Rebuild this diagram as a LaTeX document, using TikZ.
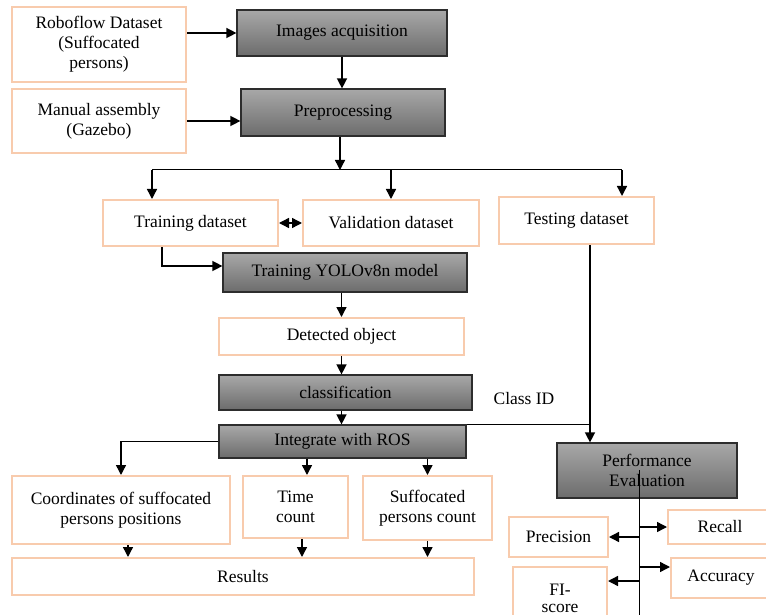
\documentclass[tikz,border=0pt]{standalone}
\usepackage{fontspec}
\setmainfont{Liberation Serif}
\usetikzlibrary{arrows.meta}

\begin{document}
\begin{tikzpicture}[x=1pt,y=-1pt,
  txt/.style={font=\fontsize{17.5}{20}\selectfont, align=center, inner sep=0pt},
  databox/.style={txt, draw=databorder, line width=2pt, fill=white},
  stagebox/.style={txt, draw=stageborder, line width=1.2pt, top color=stagetop, bottom color=stagebottom},
  arr/.style={line width=1.4pt, -{Triangle[length=10pt,width=10pt]}},
  dbl/.style={line width=1.4pt, {Triangle[length=10pt,width=10pt]}-{Triangle[length=10pt,width=10pt]}},
  link/.style={line width=1pt}]
  % Define colors
  \definecolor{databorder}{RGB}{248,203,173}
  \definecolor{stageborder}{RGB}{45,45,45}
  \definecolor{stagetop}{RGB}{168,168,168}
  \definecolor{stagebottom}{RGB}{108,108,108}

  \useasboundingbox (0,0) rectangle (766,615);
  \clip (0,0) rectangle (766,615);

  % Sources and first stages
  \node[databox, minimum width=174pt, minimum height=75pt] (robo) at (99,44.5) {Roboflow Dataset\\(Suffocated\\persons)};
  \node[databox, minimum width=174pt, minimum height=64pt] (manual) at (99,121) {Manual assembly\\(Gazebo)};
  \node[stagebox, minimum width=210pt, minimum height=46pt] (img) at (342,33) {Images acquisition};
  \node[stagebox, minimum width=204pt, minimum height=47pt] (prep) at (343,112.5) {Preprocessing};

  % Dataset split
  \node[databox, minimum width=175pt, minimum height=46pt] (train) at (190.5,223) {Training dataset};
  \node[databox, minimum width=176pt, minimum height=46pt] (val) at (391,223) {Validation dataset};
  \node[databox, minimum width=155pt, minimum height=47pt] (test) at (576.5,220.5) {Testing dataset};

  % Model chain
  \node[stagebox, minimum width=244pt, minimum height=39pt] (yolo) at (345,272.5) {Training YOLOv8n model};
  \node[databox, minimum width=245pt, minimum height=37pt] (det) at (341.5,336.5) {Detected object};
  \node[stagebox, minimum width=253pt, minimum height=35pt] (cls) at (345.5,392.5) {classification};
  \node[stagebox, minimum width=247pt, minimum height=33pt] (ros) at (342.5,441.5) {Integrate with ROS};
  \node[txt] (classid) at (524,399) {Class ID};

  % Outputs
  \node[databox, minimum width=218pt, minimum height=68pt] (coord) at (121,510) {Coordinates of suffocated\\persons positions};
  \node[databox, minimum width=105pt, minimum height=62pt] (time) at (295.5,507) {Time\\count};
  \node[databox, minimum width=129pt, minimum height=64pt] (count) at (427.5,508) {Suffocated\\persons count};
  \node[databox, minimum width=462pt, minimum height=37pt] (res) at (243,576.5) {Results};

  % Evaluation
  \node[stagebox, minimum width=180pt, minimum height=55pt] (perf) at (647,470.5) {Performance\\Evaluation};
  \node[databox, minimum width=99pt, minimum height=40pt] (prec) at (558.5,537) {Precision};
  \node[databox, minimum width=104pt, minimum height=34pt] (recall) at (720,527) {Recall};
  \node[databox, minimum width=100pt, minimum height=40pt] (acc) at (721,578) {Accuracy};
  \node[databox, minimum width=94pt, minimum height=62pt] (fi) at (560,598) {FI-\\[-3pt]score};

  % Inputs
  \draw[arr] (robo.east |- img.west) -- (img.west);
  \draw[arr] (manual.east) -- (manual.east -| prep.west);
  \draw[arr] (img.south) -- (img.south |- prep.north);

  % Split into datasets
  \coordinate (split) at (340,170);
  \coordinate (splitL) at (152,170);
  \coordinate (splitR) at (622,170);
  \draw[arr] (prep.south -| split) -- (split);
  \draw[link] (splitL) -- (splitR);
  \draw[arr] (splitL) -- (splitL |- train.north);
  \draw[arr] (split -| val.north) -- (val.north);
  \draw[arr] (splitR) -- (splitR |- test.north);
  \draw[dbl] (train.east) -- (val.west);

  % Training path
  \coordinate (tturn) at (162,266);
  \draw[arr] (tturn |- train.south) -- (tturn) -- (tturn -| yolo.west);
  \draw[arr] (yolo.south -| det.north) -- (det.north);
  \draw[arr] (det.south) -- (det.south |- cls.north);
  \draw[arr] (det.south |- cls.south) -- (det.south |- ros.north);

  % Testing to evaluation
  \coordinate (tdrop) at (590,244);
  \draw[arr] (tdrop |- test.south) -- (tdrop |- perf.north);
  \draw[link] (ros.north east) -- (ros.north east -| tdrop);

  % ROS outputs
  \coordinate (tcol) at (307,0);
  \coordinate (ccol) at (128,0);
  \coordinate (rcol) at (302,0);
  \draw[arr] (ros.west) -| (coord.north);
  \draw[arr] (tcol |- ros.south) -- (tcol |- time.north);
  \draw[arr] (count.north |- ros.south) -- (count.north);
  \draw[arr] (ccol |- coord.south) -- (ccol |- res.north);
  \draw[arr] (rcol |- time.south) -- (rcol |- res.north);
  \draw[arr] (count.south) -- (count.south |- res.north);

  % Metrics
  \coordinate (ptop) at (639,470);
  \coordinate (pbot) at (639,620);
  \draw[link] (ptop) -- (pbot);
  \draw[arr] (ptop |- recall.west) -- (recall.west);
  \draw[arr] (ptop |- prec.east) -- (prec.east);
  \draw[arr] (ptop |- acc.west) ++(0,-11) -- ([yshift=11pt]acc.west);
  \draw[arr] (ptop |- fi.east) ++(0,-17) -- ([yshift=17pt]fi.east);
\end{tikzpicture}
\end{document}
